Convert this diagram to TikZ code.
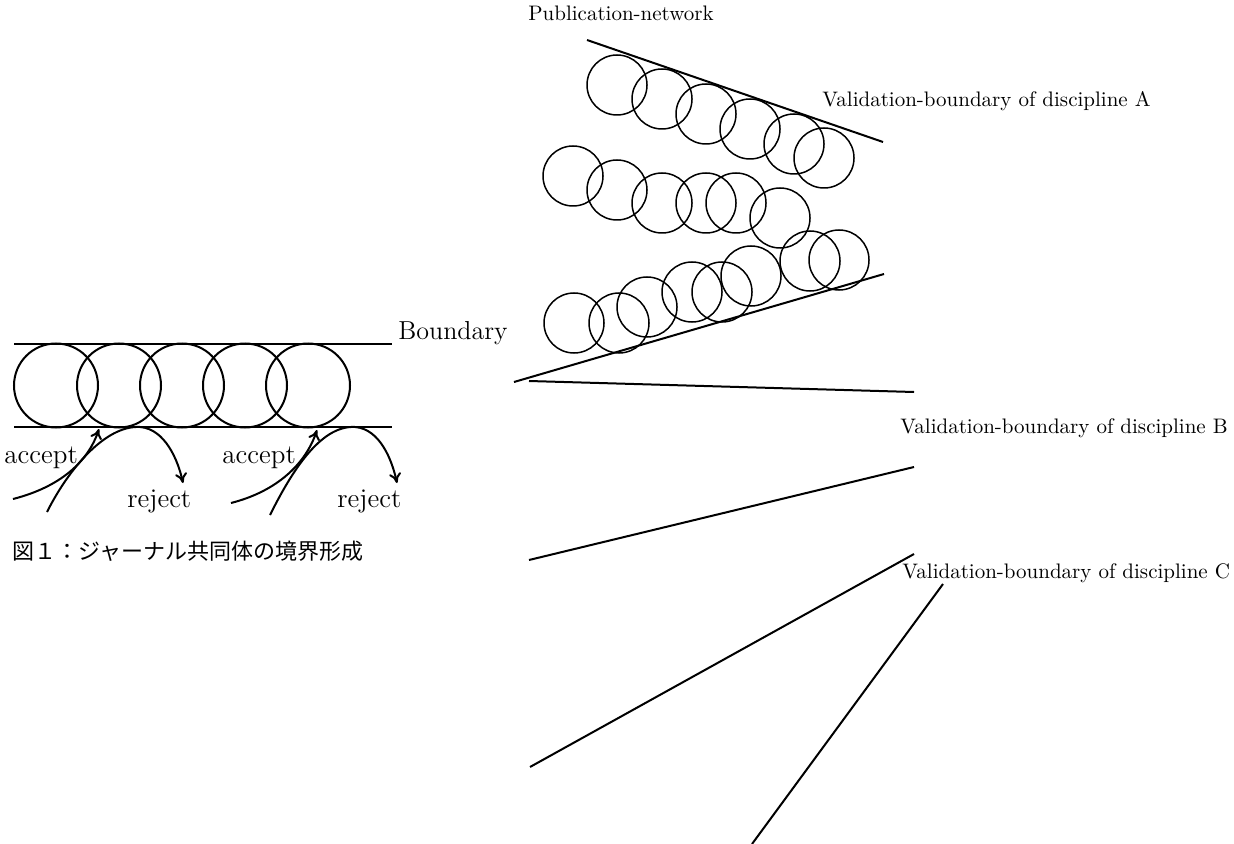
\documentclass[tikz,border=0pt]{standalone}
\usepackage{fontspec}
\usepackage{tikz}
\usetikzlibrary{arrows.meta}
\newfontfamily\cjk{Noto Sans CJK JP}

\begin{document}
\begin{tikzpicture}[x=0.5pt,y=-0.5pt,
    >={To[length=5pt,width=6pt]},
    ring/.style={line width=0.75pt},
    wall/.style={line width=1pt},
    txt/.style={anchor=base west,inner sep=0pt,font=\fontsize{10.5}{12}\selectfont},
    bigtxt/.style={txt,font=\fontsize{13.5}{16}\selectfont}]
                \useasboundingbox (0,0) rectangle (1234,844);

                % Journal community (left)
                \draw[wall] (14,344) -- (392,344);
                \draw[wall] (14,427) -- (392,427);
                \draw[wall] (56,385.5) circle [radius=42];
                \draw[wall] (119,385.5) circle [radius=42];
                \draw[wall] (182,385.5) circle [radius=42];
                \draw[wall] (245,385.5) circle [radius=42];
                \draw[wall] (308,385.5) circle [radius=42];
                \node[bigtxt,font=\fontsize{13}{16}\selectfont] (boundary) at (398,339) {Boundary};

                % accept / reject arrows
                \draw[wall,->] (13,499) .. controls (60,487) and (88,462) .. (99,429);
                \draw[wall,->] (47,512) .. controls (68,470) and (105,425) .. (140,427) .. controls (165,429) and (178,460) .. (183,483);
                \draw[wall,->] (231,503) .. controls (278,491) and (306,463) .. (317,430);
                \draw[wall,->] (270,515) .. controls (291,473) and (320,425) .. (355,427) .. controls (380,429) and (392,460) .. (397,483);
                \node[bigtxt] (accept1) at (4,463) {accept};
                \node[bigtxt] (reject1) at (127,507) {reject};
                \node[bigtxt] (accept2) at (222,463) {accept};
                \node[bigtxt] (reject2) at (337,507) {reject};

                % caption
                \node[anchor=west,inner sep=0pt,font=\cjk\fontsize{11}{13}\selectfont] (caption) at (12,551) {図１：ジャーナル共同体の境界形成};

                % Publication-network (right)
                \node[txt] (network) at (528,21) {Publication-network};
                \draw[wall] (587,40) -- (883,142);
                \draw[wall] (514,382) -- (884,274);
                % upper row
                \foreach \cx/\cy in {617/85,662/99,706/114,750/129,794/144,824/158}
                    \draw[ring] (\cx,\cy) circle [radius=30];
                % middle row
                \foreach \cx/\cy in {573/176,617/190,662/203,706/203,736/203,780/218}
                    \draw[ring] (\cx,\cy) circle [radius=30];
                % lower row
                \foreach \cx/\cy in {574/323,619/323,647/307,692/292,722/292,751/276,810/261,839/260}
                    \draw[ring] (\cx,\cy) circle [radius=30];

                % discipline boundaries
                \draw[wall] (529,381) -- (914,392);
                \draw[wall] (529,560) -- (914,467);
                \draw[wall] (530,767) -- (914,554);
                \draw[wall] (752,844) -- (943,584);
                \node[txt] (discA) at (822,107) {Validation-boundary of discipline A};
                \node[txt] (discB) at (900,433) {Validation-boundary of discipline B};
                \node[txt] (discC) at (902,578) {Validation-boundary of discipline C};
\end{tikzpicture}
\end{document}
